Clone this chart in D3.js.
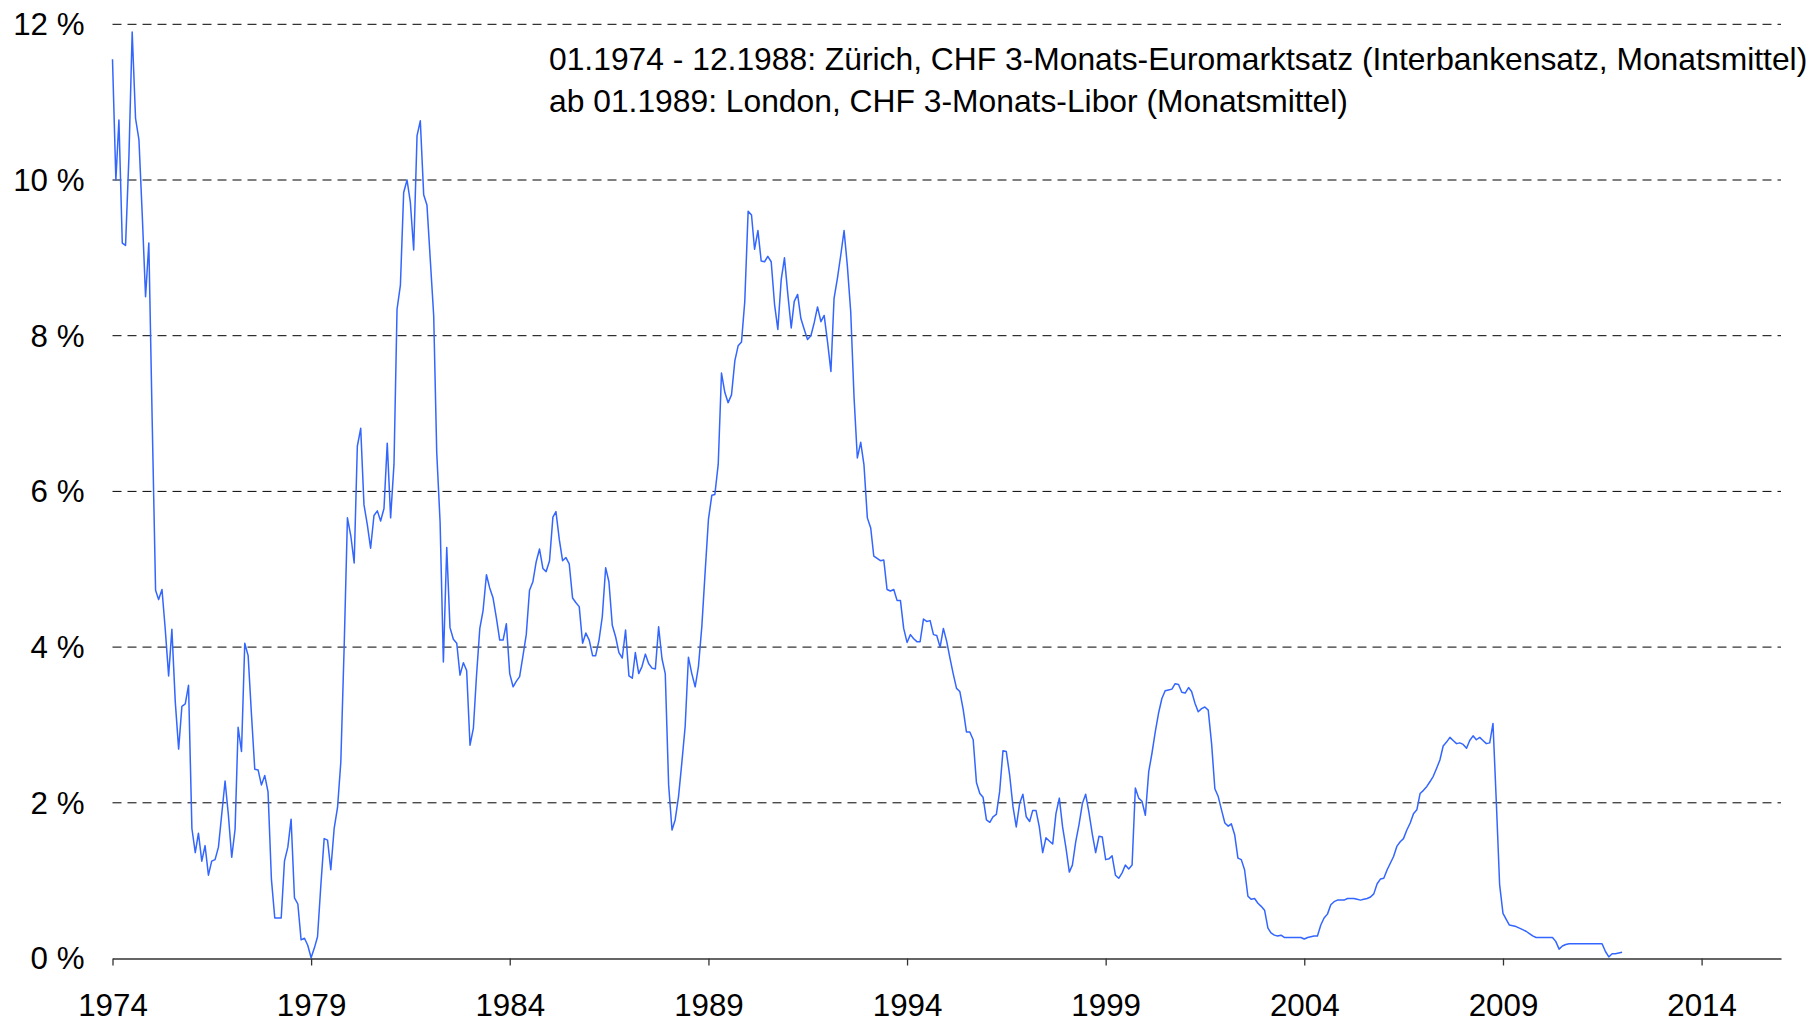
<!DOCTYPE html>
<html>
<head>
<meta charset="utf-8">
<script src="https://cdn.jsdelivr.net/npm/d3@7"></script>
<style>
  html, body { margin: 0; background: #fff; }
  svg { display: block; font-family: 'Liberation Sans', Arial, sans-serif; }
</style>
</head>
<body>
<svg id="chart" width="1813" height="1023"></svg>
<script>
// Monthly means in %, one row per year.
// 01.1974 - 12.1988: Zürich 3-month euromarket rate
const EUROMARKT_1974_1988 = [
  11.55, 10.0, 10.77, 9.19, 9.16, 10.3, 11.9, 10.79, 10.52, 9.57, 8.5, 9.19,
  6.9, 4.73, 4.61, 4.74, 4.23, 3.63, 4.23, 3.3, 2.69, 3.24, 3.27, 3.51,
  1.67, 1.36, 1.61, 1.25, 1.45, 1.07, 1.25, 1.27, 1.43, 1.85, 2.28, 1.85,
  1.3, 1.66, 2.97, 2.66, 4.05, 3.89, 3.15, 2.43, 2.42, 2.23, 2.35, 2.14,
  1.02, 0.52, 0.52, 0.52, 1.25, 1.43, 1.79, 0.78, 0.7, 0.24, 0.26, 0.17,
  0.01, 0.14, 0.28, 0.95, 1.54, 1.52, 1.14, 1.67, 1.94, 2.52, 4.01, 5.66,
  5.43, 5.08, 6.58, 6.81, 5.83, 5.57, 5.27, 5.69, 5.75, 5.62, 5.78, 6.62,
  5.66, 6.35, 8.34, 8.65, 9.84, 10.0, 9.72, 9.1, 10.57, 10.76, 9.81, 9.68,
  8.97, 8.26, 6.5, 5.6, 3.81, 5.28, 4.25, 4.1, 4.05, 3.64, 3.8, 3.7,
  2.74, 2.96, 3.62, 4.24, 4.47, 4.93, 4.76, 4.63, 4.37, 4.09, 4.09, 4.3,
  3.66, 3.49, 3.56, 3.62, 3.88, 4.16, 4.73, 4.84, 5.1, 5.26, 5.01, 4.97,
  5.11, 5.67, 5.74, 5.38, 5.11, 5.15, 5.07, 4.63, 4.57, 4.52, 4.05, 4.18,
  4.09, 3.89, 3.89, 4.09, 4.39, 5.02, 4.84, 4.28, 4.13, 3.93, 3.86, 4.22,
  3.63, 3.6, 3.93, 3.66, 3.75, 3.91, 3.79, 3.73, 3.72, 4.26, 3.85, 3.66,
  2.23, 1.65, 1.78, 2.08, 2.51, 2.98, 3.87, 3.66, 3.49, 3.75, 4.26, 4.95
];
// from 01.1989: London CHF 3-month Libor
const LIBOR_1989_2012 = [
  5.64, 5.95, 5.96, 6.35, 7.52, 7.27, 7.14, 7.24, 7.68, 7.87, 7.92, 8.44,
  9.6, 9.55, 9.11, 9.35, 8.96, 8.95, 9.02, 8.95, 8.4, 8.08, 8.72, 9.0,
  8.53, 8.1, 8.44, 8.53, 8.22, 8.08, 7.95, 8.0, 8.17, 8.37, 8.18, 8.26,
  7.92, 7.54, 8.48, 8.74, 9.03, 9.35, 8.9, 8.31, 7.2, 6.43, 6.63, 6.34,
  5.66, 5.53, 5.17, 5.14, 5.11, 5.12, 4.74, 4.72, 4.74, 4.6, 4.6, 4.24,
  4.06, 4.16, 4.11, 4.07, 4.07, 4.36, 4.33, 4.34, 4.16, 4.15, 4.0, 4.24,
  4.07, 3.85, 3.66, 3.47, 3.43, 3.2, 2.91, 2.91, 2.81, 2.26, 2.12, 2.07,
  1.78, 1.75, 1.82, 1.85, 2.14, 2.67, 2.66, 2.36, 1.95, 1.69, 1.99, 2.11,
  1.82, 1.76, 1.9, 1.9, 1.69, 1.36, 1.55, 1.51, 1.47, 1.86, 2.06, 1.69,
  1.42, 1.11, 1.2, 1.5, 1.72, 1.99, 2.11, 1.87, 1.59, 1.36, 1.57, 1.56,
  1.27, 1.28, 1.32, 1.07, 1.03, 1.1, 1.2, 1.15, 1.2, 2.19, 2.06, 2.02,
  1.84, 2.4, 2.63, 2.91, 3.15, 3.34, 3.44, 3.45, 3.46, 3.53, 3.52, 3.42,
  3.41, 3.48, 3.43, 3.28, 3.17, 3.21, 3.23, 3.19, 2.76, 2.18, 2.08, 1.91,
  1.74, 1.7, 1.73, 1.59, 1.29, 1.27, 1.14, 0.8, 0.76, 0.77, 0.71, 0.67,
  0.62, 0.39, 0.33, 0.3, 0.29, 0.3, 0.27, 0.27, 0.27, 0.27, 0.27, 0.27,
  0.25, 0.27, 0.28, 0.29, 0.29, 0.43, 0.52, 0.57, 0.69, 0.73, 0.75, 0.75,
  0.75, 0.77, 0.77, 0.77, 0.76, 0.75, 0.76, 0.77, 0.79, 0.83, 0.96, 1.02,
  1.03, 1.14, 1.22, 1.31, 1.44, 1.5, 1.54, 1.65, 1.74, 1.86, 1.91, 2.12,
  2.16, 2.21, 2.27, 2.34, 2.44, 2.55, 2.73, 2.78, 2.84, 2.8, 2.76, 2.77,
  2.75, 2.7, 2.8, 2.86, 2.81, 2.84, 2.8, 2.76, 2.77, 3.02, 2.0, 0.95,
  0.58, 0.5, 0.43, 0.42, 0.41, 0.39, 0.37, 0.35, 0.32, 0.29, 0.27, 0.27,
  0.27, 0.27, 0.27, 0.27, 0.22, 0.12, 0.16, 0.18, 0.19, 0.19, 0.19, 0.19,
  0.19, 0.19, 0.19, 0.19, 0.19, 0.19, 0.19, 0.09, 0.02, 0.06, 0.06, 0.07,
  0.08
];
const FIRST_YEAR = 1974;
const YEAR_TICKS = [1974, 1979, 1984, 1989, 1994, 1999, 2004, 2009, 2014];
const PERCENT_TICKS = [0, 2, 4, 6, 8, 10, 12];
const NOTE_LINES = [
  '01.1974 - 12.1988: Zürich, CHF 3-Monats-Euromarktsatz (Interbankensatz, Monatsmittel)',
  'ab 01.1989: London, CHF 3-Monats-Libor (Monatsmittel)'
];

const series = EUROMARKT_1974_1988.concat(LIBOR_1989_2012)
  .map((v, i) => ({ date: new Date(FIRST_YEAR, i, 1), value: v }));

const svg = d3.select('#chart');
const plotLeft = 112.5, plotRight = 1781, plotTop = 24.3, plotBottom = 958.5;
const axisFont = 31.3, noteFont = 31.8;

const x = d3.scaleTime()
  .domain([new Date(1974, 0, 1), new Date(2016, 0, 1)])
  .range([plotLeft, plotRight]);
const y = d3.scaleLinear().domain([0, 12]).range([plotBottom, plotTop]);

// dashed grid lines (0 is the solid axis line)
svg.append('g')
  .selectAll('line')
  .data(PERCENT_TICKS.filter(d => d > 0))
  .join('line')
  .attr('x1', plotLeft)
  .attr('x2', plotRight)
  .attr('y1', d => y(d))
  .attr('y2', d => y(d))
  .attr('stroke', '#000')
  .attr('stroke-width', 1)
  .attr('stroke-dasharray', '9,6');

// y labels
svg.append('g')
  .selectAll('text')
  .data(PERCENT_TICKS)
  .join('text')
  .attr('x', 84.5)
  .attr('y', d => y(d))
  .attr('dy', '0.35em')
  .attr('text-anchor', 'end')
  .attr('font-size', axisFont)
  .text(d => d + ' %');

// x axis
const xAxis = svg.append('g')
  .attr('transform', `translate(0,${plotBottom})`)
  .call(d3.axisBottom(x)
    .tickValues(YEAR_TICKS.map(yr => new Date(yr, 0, 1)))
    .tickFormat(d3.timeFormat('%Y'))
    .tickSize(7)
    .tickSizeOuter(0)
    .tickPadding(28));
xAxis.attr('font-size', axisFont).attr('font-family', null);
xAxis.select('.domain').attr('stroke', '#333').attr('stroke-width', 1.3);
xAxis.selectAll('.tick line').attr('stroke', '#333').attr('stroke-width', 1.3);
xAxis.selectAll('.tick text').attr('fill', '#000');

// rate line
const line = d3.line()
  .x(d => x(d.date))
  .y(d => y(d.value));

svg.append('path')
  .datum(series)
  .attr('fill', 'none')
  .attr('stroke', '#3366ff')
  .attr('stroke-width', 1.5)
  .attr('stroke-linejoin', 'round')
  .attr('d', line);

// note
svg.append('g')
  .selectAll('text')
  .data(NOTE_LINES)
  .join('text')
  .attr('x', 549)
  .attr('y', (d, i) => 70 + i * 42)
  .attr('font-size', noteFont)
  .text(d => d);
</script>
</body>
</html>
